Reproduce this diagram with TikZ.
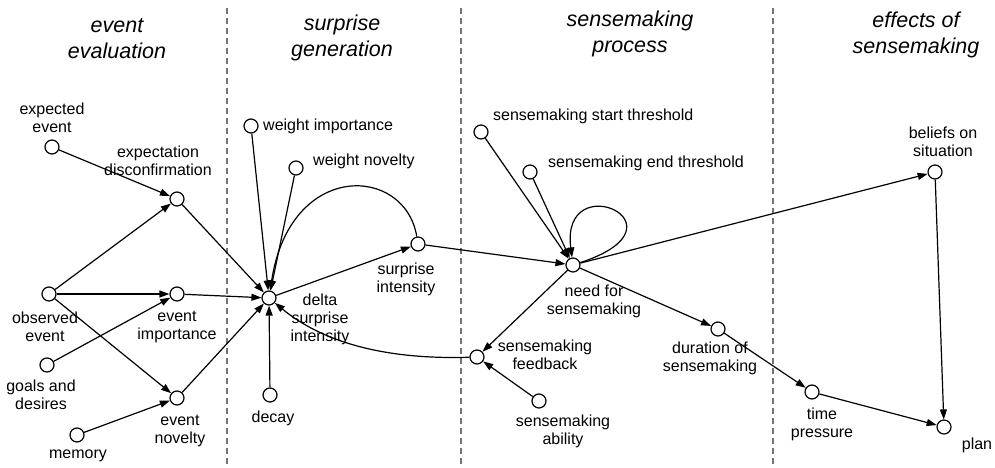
\documentclass[tikz,border=0pt]{standalone}
\usepackage{fontspec}
\setmainfont{Liberation Sans}
\usetikzlibrary{arrows.meta}
\tikzset{
  var node/.style={
    circle,
    draw,
    line width=1.2pt,
    fill=white,
    inner sep=0pt,
    minimum size=14pt
  },
  var label/.style={
    font=\fontsize{16}{18}\selectfont,
    align=center,
    inner sep=0pt
  },
  phase title/.style={
    font=\fontsize{21.5}{26}\selectfont\itshape,
    align=center,
    inner sep=0pt
  },
  flow/.style={
    -{Triangle[length=10pt,width=7pt]},
    line width=1.2pt
  },
  phase sep/.style={
    dash pattern=on 6pt off 4pt,
    line width=1.5pt,
    color=black!55
  }
}

\begin{document}
\begin{tikzpicture}[x=1pt, y=-1pt]
    \useasboundingbox (0,0) rectangle (995,468);

    % phase separators
    \foreach \x in {227,461,773} {
      \draw[phase sep] (\x, 8) -- (\x, 468);
    }

    % phase titles
    \node[phase title] (ttlEval) at (117, 38.5) {event\\evaluation};
    \node[phase title] (ttlSurp) at (342, 37.5) {surprise\\generation};
    \node[phase title] (ttlProc) at (630, 33.5) {sensemaking\\process};
    \node[phase title] (ttlEff) at (916, 35) {effects of\\sensemaking};

    % event evaluation
    \node[var node] (expEv) at (52, 147) {};
    \node[var label] (expEvT) at (52, 117.5) {expected\\event};
    \node[var node] (disconf) at (177, 199) {};
    \node[var label] (disconfT) at (158, 161) {expectation\\disconfirmation};
    \node[var node] (obsEv) at (49, 294) {};
    \node[var label] (obsEvT) at (45, 327) {observed\\event};
    \node[var node] (evImp) at (177, 294) {};
    \node[var label] (evImpT) at (177, 327) {event\\importance};
    \node[var node] (goals) at (47, 365) {};
    \node[var label] (goalsT) at (41, 395) {goals and\\desires};
    \node[var node] (evNov) at (177, 398) {};
    \node[var label] (evNovT) at (180, 431) {event\\novelty};
    \node[var node] (memory) at (77, 435) {};
    \node[var label] (memoryT) at (78, 456) {memory};

    % surprise generation
    \node[var node] (wImp) at (251, 126) {};
    \node[var label, anchor=west] (wImpT) at (263, 126) {weight importance};
    \node[var node] (wNov) at (296, 168) {};
    \node[var label, anchor=west] (wNovT) at (313, 161) {weight novelty};
    \node[var node] (delta) at (269, 298) {};
    \node[var label] (deltaT) at (320, 319) {delta\\surprise\\intensity};
    \node[var node] (sInt) at (418, 244) {};
    \node[var label] (sIntT) at (406, 279.5) {surprise\\intensity};
    \node[var node] (decay) at (270, 395) {};
    \node[var label] (decayT) at (273, 418) {decay};

    % sensemaking process
    \node[var node] (startTh) at (481, 132) {};
    \node[var label, anchor=west] (startThT) at (493, 116) {sensemaking start threshold};
    \node[var node] (endTh) at (530, 172) {};
    \node[var label, anchor=west] (endThT) at (548, 163) {sensemaking end threshold};
    \node[var node] (need) at (573, 265) {};
    \node[var label] (needT) at (594, 301.5) {need for\\sensemaking};
    \node[var node] (feedback) at (477, 357) {};
    \node[var label] (feedbackT) at (545, 354.5) {sensemaking\\feedback};
    \node[var node] (ability) at (539, 401) {};
    \node[var label] (abilityT) at (563, 431.5) {sensemaking\\ability};
    \node[var node] (duration) at (718, 329) {};
    \node[var label] (durationT) at (710, 358.5) {duration of\\sensemaking};

    % effects of sensemaking
    \node[var node] (beliefs) at (935, 172) {};
    \node[var label] (beliefsT) at (943, 142) {beliefs on\\situation};
    \node[var node] (tPress) at (812, 392) {};
    \node[var label] (tPressT) at (822, 424) {time\\pressure};
    \node[var node] (plan) at (944, 427) {};
    \node[var label] (planT) at (977, 445) {plan};

    % influences
    \draw[flow] (expEv) -- (disconf);
    \draw[flow] (obsEv) -- (disconf);
    \draw[flow] (obsEv) -- (evImp);
    \draw[flow] (obsEv) -- (evNov);
    \draw[flow] (goals) -- (evImp);
    \draw[flow] (memory) -- (evNov);
    \draw[flow] (disconf) -- (delta);
    \draw[flow] (evImp) -- (delta);
    \draw[flow] (evNov) -- (delta);
    \draw[flow] (wImp) -- (delta);
    \draw[flow] (wNov) -- (delta);
    \draw[flow] (decay) -- (delta);
    \draw[flow] (delta) -- (sInt);
    \draw[flow] (sInt) .. controls (405, 165) and (290, 160) .. (delta);
    \draw[flow] (sInt) -- (need);
    \draw[flow] (startTh) -- (need);
    \draw[flow] (endTh) -- (need);
    \draw[flow] (need) .. controls (695, 225) and (560, 165) .. (need);
    \draw[flow] (need) -- (beliefs);
    \draw[flow] (need) -- (feedback);
    \draw[flow] (need) -- (duration);
    \draw[flow] (ability) -- (feedback);
    \draw[flow] (feedback) .. controls (380, 360) and (320, 340) .. (delta);
    \draw[flow] (duration) -- (tPress);
    \draw[flow] (tPress) -- (plan);
    \draw[flow] (beliefs) -- (plan);

  \end{tikzpicture}
\end{document}
